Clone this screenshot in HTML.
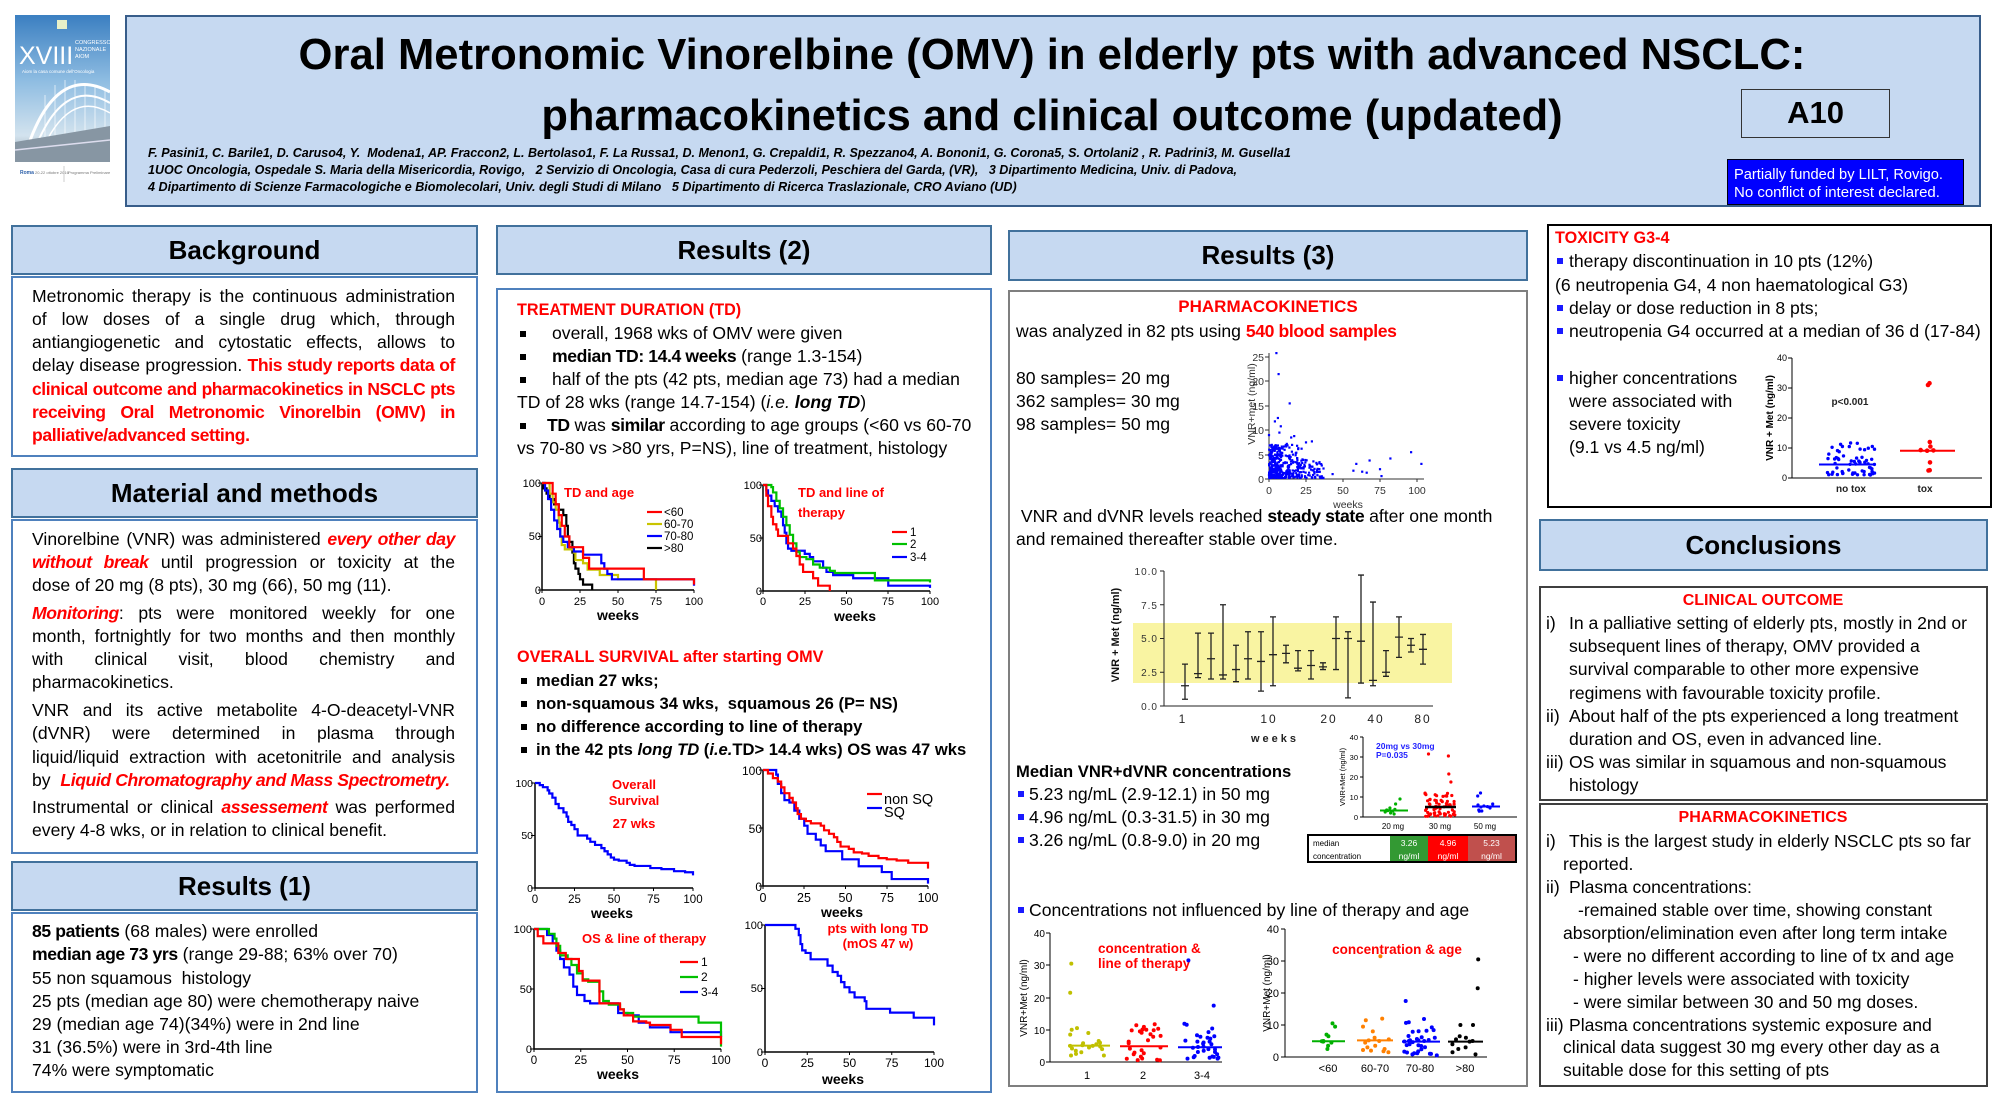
<!DOCTYPE html>
<html><head><meta charset="utf-8">
<style>
*{margin:0;padding:0;box-sizing:border-box}
body{width:2000px;height:1101px;position:relative;overflow:hidden;background:#fff;font-family:"Liberation Sans",Arial,sans-serif;color:#000}
.a{position:absolute}
.hd{position:absolute;background:#c6d9f1;border:2px solid #41719c;font-weight:bold;font-size:26px;text-align:center}
.bx{position:absolute;border:2px solid #4f81bd;background:#fff}
.t{position:absolute;font-size:17.6px;line-height:23.2px;white-space:nowrap}
.j{white-space:normal;text-align:justify;text-align-last:justify}
.r{color:#f00}
.b{font-weight:bold;letter-spacing:-0.4px}
.h{font-weight:bold;color:#f00;font-size:16.2px}
.tb{font-weight:bold;font-size:16.6px}
.bl{position:absolute;width:6px;height:6px;background:#000}
.bb{position:absolute;width:6px;height:6px;background:#1a1aff}
.fx{position:absolute;display:inline-block;white-space:nowrap}
.cx{transform:translateX(-50%);transform-origin:50% 50%}
.lf{transform-origin:0 50%}
.km path,.eb path{vector-effect:non-scaling-stroke}
</style></head><body>

<!-- Logo -->
<svg class="a" style="left:0;top:0" width="125" height="200" viewBox="0 0 125 200">
<defs><linearGradient id="sky" x1="0" y1="0" x2="0" y2="1"><stop offset="0" stop-color="#3b7fc1"/><stop offset="0.45" stop-color="#8fbde2"/><stop offset="0.82" stop-color="#d3e3ee"/><stop offset="1" stop-color="#8f9eab"/></linearGradient></defs>
<rect x="15" y="15" width="95" height="147" fill="url(#sky)"/>
<rect x="57" y="20" width="10" height="9" fill="#e8f0c8"/>
<text x="19" y="64" font-size="25" fill="#fff" font-family="Liberation Sans, sans-serif">XVIII</text>
<g font-size="5.5" fill="#fff"><text x="75" y="44">CONGRESSO</text><text x="75" y="51">NAZIONALE</text><text x="75" y="58">AIOM</text></g>
<text x="22" y="73" font-size="4.5" fill="#fff">Aiom la casa comune dell'Oncologia</text>
<g fill="none" stroke="#fff"><path d="M26 152 Q55 62 110 92" stroke-width="3"/><path d="M33 154 Q62 75 110 103" stroke-width="2"/><path d="M40 155 Q68 88 110 113" stroke-width="1.5"/>
<path d="M45 95V140M55 85V138M65 80V136M75 80V134M85 83V132M95 87V130M105 91V128" stroke-width="0.8" opacity="0.8"/></g>
<path d="M15 142 L110 126 L110 162 L15 162Z" fill="#8796a3"/>
<path d="M15 150 L110 140" stroke="#dde" stroke-width="1.5"/>
<rect x="15" y="162" width="95" height="23" fill="#fff"/>
<text x="20" y="174" font-size="5" fill="#2a5ea8" font-weight="bold">Roma</text><text x="35" y="174" font-size="4" fill="#777">20-22 ottobre 2016</text>
<line x1="64" y1="166" x2="64" y2="182" stroke="#aaa" stroke-width="0.6"/>
<text x="68" y="174" font-size="4" fill="#777">Programma Preliminare</text>
</svg>

<!-- Header -->
<div class="a" style="left:125px;top:15px;width:1856px;height:192px;background:#c6d9f1;border:2px solid #385d8a"></div>
<div class="fx cx" style="--w:1507;left:1052px;top:33px;font-size:44px;line-height:44px;font-weight:bold">Oral Metronomic Vinorelbine (OMV) in elderly pts with advanced NSCLC:</div>
<div class="fx cx" style="--w:1021;left:1052px;top:94px;font-size:44px;line-height:44px;font-weight:bold">pharmacokinetics and clinical outcome (updated)</div>
<div class="fx lf" style="--w:1143;left:148px;top:145px;font-size:12.5px;line-height:17px;font-weight:bold;font-style:italic">F. Pasini1, C. Barile1, D. Caruso4, Y.&nbsp; Modena1, AP. Fraccon2, L. Bertolaso1, F. La Russa1, D. Menon1, G. Crepaldi1, R. Spezzano4, A. Bononi1, G. Corona5, S. Ortolani2 , R. Padrini3, M. Gusella1</div>
<div class="fx lf" style="--w:1089;left:148px;top:162px;font-size:12.5px;line-height:17px;font-weight:bold;font-style:italic">1UOC Oncologia, Ospedale S. Maria della Misericordia, Rovigo, &nbsp; 2 Servizio di Oncologia, Casa di cura Pederzoli, Peschiera del Garda, (VR), &nbsp; 3 Dipartimento Medicina, Univ. di Padova,</div>
<div class="fx lf" style="--w:869;left:148px;top:179px;font-size:12.5px;line-height:17px;font-weight:bold;font-style:italic">4 Dipartimento di Scienze Farmacologiche e Biomolecolari, Univ. degli Studi di Milano &nbsp; 5 Dipartimento di Ricerca Traslazionale, CRO Aviano (UD)</div>
<div class="a" style="left:1741px;top:89px;width:149px;height:49px;background:#c6d9f1;border:1.5px solid #333;font-weight:bold;font-size:31px;line-height:46px;text-align:center">A10</div>
<div class="a" style="left:1727px;top:159px;width:237px;height:46px;background:#0000ff;border:1px solid #001"></div>
<div class="fx lf" style="--w:209;left:1734px;top:166px;font-size:15px;line-height:18px;color:#fff">Partially funded by LILT, Rovigo.</div>
<div class="fx lf" style="--w:206;left:1734px;top:184px;font-size:15px;line-height:18px;color:#fff">No conflict of interest declared.</div>

<!-- LEFT COLUMN -->
<div class="hd" style="left:11px;top:225px;width:467px;height:50px;line-height:46px">Background</div>
<div class="bx" style="left:11px;top:276px;width:467px;height:181px"></div>
<div class="t j" style="left:32px;width:423px;top:285.4px">Metronomic therapy is the continuous administration</div>
<div class="t j" style="left:32px;width:423px;top:308.4px">of low doses of a single drug which, through</div>
<div class="t j" style="left:32px;width:423px;top:331.4px">antiangiogenetic and cytostatic effects, allows to</div>
<div class="t j" style="left:32px;width:423px;top:354.4px">delay disease progression. <span class="b r">This study reports data of</span></div>
<div class="t j" style="left:32px;width:423px;top:378.4px"><span class="b r">clinical outcome and pharmacokinetics in NSCLC pts</span></div>
<div class="t j" style="left:32px;width:423px;top:401.4px"><span class="b r">receiving Oral Metronomic Vinorelbin (OMV) in</span></div>
<div class="t" style="left:32px;top:424.4px"><span class="b r">palliative/advanced setting.</span></div>

<div class="hd" style="left:11px;top:468px;width:467px;height:50px;line-height:46px">Material and methods</div>
<div class="bx" style="left:11px;top:519px;width:467px;height:335px"></div>
<div class="t j" style="left:32px;width:423px;top:528.4px">Vinorelbine (VNR) was administered <i class="b r">every other day</i></div>
<div class="t j" style="left:32px;width:423px;top:551.4px"><i class="b r">without break</i> until progression or toxicity at the</div>
<div class="t" style="left:32px;top:574.4px">dose of 20 mg (8 pts), 30 mg (66), 50 mg (11).</div>
<div class="t j" style="left:32px;width:423px;top:602.4px"><i class="b r">Monitoring</i>: pts were monitored weekly for one</div>
<div class="t j" style="left:32px;width:423px;top:625.4px">month, fortnightly for two months and then monthly</div>
<div class="t j" style="left:32px;width:423px;top:648.4px">with clinical visit, blood chemistry and</div>
<div class="t" style="left:32px;top:671.4px">pharmacokinetics.</div>
<div class="t j" style="left:32px;width:423px;top:699.4px">VNR and its active metabolite 4-O-deacetyl-VNR</div>
<div class="t j" style="left:32px;width:423px;top:722.4px">(dVNR) were determined in plasma through</div>
<div class="t j" style="left:32px;width:423px;top:746.4px">liquid/liquid extraction with acetonitrile and analysis</div>
<div class="t" style="left:32px;top:769.4px">by&nbsp; <i class="b r">Liquid Chromatography and Mass Spectrometry.</i></div>
<div class="t j" style="left:32px;width:423px;top:796.4px">Instrumental or clinical <i class="b r">assessement</i> was performed</div>
<div class="t" style="left:32px;top:819.4px">every 4-8 wks, or in relation to clinical benefit.</div>

<div class="hd" style="left:11px;top:861px;width:467px;height:50px;line-height:46px">Results (1)</div>
<div class="bx" style="left:11px;top:912px;width:467px;height:181px"></div>
<div class="t" style="left:32px;top:920.4px"><span class="b">85 patients</span> (68 males) were enrolled</div>
<div class="t" style="left:32px;top:943.4px"><span class="b">median age 73 yrs</span> (range 29-88; 63% over 70)</div>
<div class="t" style="left:32px;top:967.4px">55 non squamous&nbsp; histology</div>
<div class="t" style="left:32px;top:990.4px">25 pts (median age 80) were chemotherapy naive</div>
<div class="t" style="left:32px;top:1013.4px">29 (median age 74)(34%) were in 2nd line</div>
<div class="t" style="left:32px;top:1036.4px">31 (36.5%) were in 3rd-4th line</div>
<div class="t" style="left:32px;top:1059.4px">74% were symptomatic</div>

<!-- RESULTS 2 -->
<div class="hd" style="left:496px;top:225px;width:496px;height:50px;line-height:46px">Results (2)</div>
<div class="bx" style="left:496px;top:288px;width:496px;height:805px"></div>
<div class="t h" style="left:517px;top:299.4px">TREATMENT DURATION (TD)</div>
<div class="bl" style="left:520px;top:331px"></div>
<div class="t" style="left:552px;top:322.4px">overall, 1968 wks of OMV were given</div>
<div class="bl" style="left:520px;top:354px"></div>
<div class="t" style="left:552px;top:345.4px"><span class="b">median TD: 14.4 weeks</span> (range 1.3-154)</div>
<div class="bl" style="left:520px;top:377px"></div>
<div class="t" style="left:552px;top:368.4px">half of the pts (42 pts, median age 73) had a median</div>
<div class="t" style="left:517px;top:391.4px">TD of 28 wks (range 14.7-154) (<i>i.e.</i> <b><i>long TD</i></b>)</div>
<div class="bl" style="left:520px;top:423px"></div>
<div class="t" style="left:547px;top:414.4px"><span class="b">TD</span> was <span class="b">similar</span> according to age groups (&lt;60 vs 60-70</div>
<div class="t" style="left:517px;top:437.4px">vs 70-80 vs &gt;80 yrs, P=NS), line of treatment, histology</div>

<div class="t h" style="left:517px;top:646.4px">OVERALL SURVIVAL after starting OMV</div>
<div class="bl" style="left:521px;top:678px"></div>
<div class="t tb" style="left:536px;top:669.4px">median 27 wks;</div>
<div class="bl" style="left:521px;top:701px"></div>
<div class="t tb" style="left:536px;top:692.4px">non-squamous 34 wks,&nbsp; squamous 26 (P= NS)</div>
<div class="bl" style="left:521px;top:724px"></div>
<div class="t tb" style="left:536px;top:715.4px">no difference according to line of therapy</div>
<div class="bl" style="left:521px;top:747px"></div>
<div class="t tb" style="left:536px;top:738.4px">in the 42 pts <i>long TD</i> (<i>i.e.</i>TD&gt; 14.4 wks) OS was 47 wks</div>

<!-- RESULTS 3 -->
<div class="hd" style="left:1008px;top:230px;width:520px;height:51px;line-height:47px">Results (3)</div>
<div class="bx" style="left:1008px;top:290px;width:520px;height:797px;border-color:#7f7f7f"></div>
<div class="t" style="left:1268px;top:295.4px;transform:translateX(-50%);font-weight:bold;color:#f00;font-size:17px">PHARMACOKINETICS</div>
<div class="t" style="left:1016px;top:320.4px">was analyzed in 82 pts using <span class="b r">540 blood samples</span></div>
<div class="t" style="left:1016px;top:367.4px">80 samples= 20 mg</div>
<div class="t" style="left:1016px;top:390.4px">362 samples= 30 mg</div>
<div class="t" style="left:1016px;top:413.4px">98 samples= 50 mg</div>
<div class="t" style="left:1016px;top:505.4px">&nbsp;VNR and dVNR levels reached <span class="b">steady state</span> after one month</div>
<div class="t" style="left:1016px;top:528.4px">and remained thereafter stable over time.</div>
<div class="t tb" style="left:1016px;top:760.4px">Median VNR+dVNR concentrations</div>
<div class="bb" style="left:1018px;top:791px"></div>
<div class="t" style="left:1029px;top:783.4px">5.23 ng/mL (2.9-12.1) in 50 mg</div>
<div class="bb" style="left:1018px;top:814px"></div>
<div class="t" style="left:1029px;top:806.4px">4.96 ng/mL (0.3-31.5) in 30 mg</div>
<div class="bb" style="left:1018px;top:837px"></div>
<div class="t" style="left:1029px;top:829.4px">3.26 ng/mL (0.8-9.0) in 20 mg</div>
<div class="bb" style="left:1018px;top:907px"></div>
<div class="t" style="left:1029px;top:899.4px">Concentrations not influenced by line of therapy and age</div>

<!-- table -->
<div class="a" style="left:1307px;top:834px;width:210px;height:29px;border:2px solid #000;background:#fff"></div>
<div class="a" style="left:1390px;top:836px;width:38px;height:25px;background:#339933"></div>
<div class="a" style="left:1428px;top:836px;width:40px;height:25px;background:#ff0000"></div>
<div class="a" style="left:1468px;top:836px;width:47px;height:25px;background:#c0504d"></div>

<!-- RIGHT COLUMN -->
<div class="a" style="left:1547px;top:224px;width:445px;height:284px;border:2px solid #000"></div>
<div class="t h" style="left:1555px;top:227.4px">TOXICITY G3-4</div>
<div class="bb" style="left:1557px;top:258px"></div>
<div class="t" style="left:1569px;top:250.4px">therapy discontinuation in 10 pts (12%)</div>
<div class="t" style="left:1555px;top:274.4px">(6 neutropenia G4, 4 non haematological G3)</div>
<div class="bb" style="left:1557px;top:305px"></div>
<div class="t" style="left:1569px;top:297.4px">delay or dose reduction in 8 pts;</div>
<div class="bb" style="left:1557px;top:328px"></div>
<div class="t" style="left:1569px;top:320.4px">neutropenia G4 occurred at a median of 36 d (17-84)</div>
<div class="bb" style="left:1557px;top:375px"></div>
<div class="t" style="left:1569px;top:367.4px">higher concentrations</div>
<div class="t" style="left:1569px;top:390.4px">were associated with</div>
<div class="t" style="left:1569px;top:413.4px">severe toxicity</div>
<div class="t" style="left:1569px;top:436.4px">(9.1 vs 4.5 ng/ml)</div>

<div class="hd" style="left:1539px;top:519px;width:449px;height:52px;line-height:48px">Conclusions</div>
<div class="a" style="left:1539px;top:586px;width:449px;height:215px;border:2px solid #3f3f3f"></div>
<div class="t" style="left:1763px;top:589.4px;transform:translateX(-50%);font-weight:bold;color:#f00;font-size:16px">CLINICAL OUTCOME</div>
<div class="t" style="left:1546px;top:612.4px">i)</div>
<div class="t" style="left:1569px;top:612.4px">In a palliative setting of elderly pts, mostly in 2nd or</div>
<div class="t" style="left:1569px;top:635.4px">subsequent lines of therapy, OMV provided a</div>
<div class="t" style="left:1569px;top:658.4px">survival comparable to other more expensive</div>
<div class="t" style="left:1569px;top:682.4px">regimens with favourable toxicity profile.</div>
<div class="t" style="left:1546px;top:705.4px">ii)</div>
<div class="t" style="left:1569px;top:705.4px">About half of the pts experienced a long treatment</div>
<div class="t" style="left:1569px;top:728.4px">duration and OS, even in advanced line.</div>
<div class="t" style="left:1546px;top:751.4px">iii)</div>
<div class="t" style="left:1569px;top:751.4px">OS was similar in squamous and non-squamous</div>
<div class="t" style="left:1569px;top:774.4px">histology</div>

<div class="a" style="left:1539px;top:803px;width:449px;height:284px;border:2px solid #3f3f3f"></div>
<div class="t" style="left:1763px;top:806.4px;transform:translateX(-50%);font-weight:bold;color:#f00;font-size:16px">PHARMACOKINETICS</div>
<div class="t" style="left:1546px;top:830.4px">i)</div>
<div class="t" style="left:1569px;top:830.4px">This is the largest study in elderly NSCLC pts so far</div>
<div class="t" style="left:1563px;top:853.4px">reported.</div>
<div class="t" style="left:1546px;top:876.4px">ii)</div>
<div class="t" style="left:1569px;top:876.4px">Plasma concentrations:</div>
<div class="t" style="left:1578px;top:899.4px">-remained stable over time, showing constant</div>
<div class="t" style="left:1563px;top:922.4px">absorption/elimination even after long term intake</div>
<div class="t" style="left:1573px;top:945.4px">- were no different according to line of tx and age</div>
<div class="t" style="left:1573px;top:968.4px">- higher levels were associated with toxicity</div>
<div class="t" style="left:1573px;top:991.4px">- were similar between 30 and 50 mg doses.</div>
<div class="t" style="left:1546px;top:1014.4px">iii)</div>
<div class="t" style="left:1569px;top:1014.4px">Plasma concentrations systemic exposure and</div>
<div class="t" style="left:1563px;top:1036.4px">clinical data suggest 30 mg every other day as a</div>
<div class="t" style="left:1563px;top:1059.4px">suitable dose for this setting of pts</div>

<!-- CHARTS -->
<svg class="a" style="left:0;top:0" width="2000" height="1101" viewBox="0 0 2000 1101" font-family="Liberation Sans, Arial, sans-serif">

<!-- Chart A: TD and age -->
<g fill="none" stroke="#000"><path d="M542 483V590H694" stroke-width="1.5"/><path d="M538 483H542M538 536.5H542M538 590H542M542 590v3M580 590v3M618 590v3M656 590v3M694 590v3" stroke-width="1"/></g>
<g class="km" transform="translate(542,590) scale(1.52,-1.07)" fill="none" stroke-width="2.2">
<path stroke="#000" d="M0 100H1V95H3V90H5V85H8V80H11V75H14V70H16V60H17V50H18V45H20V35H21V25H22V20H24V15H25V10H27V5H33V0"/>
<path stroke="#c9c400" d="M0 100H5V90H7V82H9V75H11V63H12V50H13V42H15V38H21V35H22V28H27V25H30V19H38V14H50V10H75V0"/>
<path stroke="#0000ff" d="M0 100H2V93H4V85H6V75H8V65H10V57H12V50H14V45H17V40H21V36H27V33H39V25H41V20H43V15H46V10H100V4"/>
<path stroke="#ff0000" d="M0 100H7V90H9V80H11V70H13V60H15V50H18V40H27V30H31V20H67V10H100V5"/>
</g>
<g font-size="11" text-anchor="end"><text x="541" y="487">100</text><text x="541" y="540">50</text><text x="541" y="594">0</text></g>
<g font-size="11" text-anchor="middle"><text x="542" y="605">0</text><text x="580" y="605">25</text><text x="618" y="605">50</text><text x="656" y="605">75</text><text x="694" y="605">100</text></g>
<text x="618" y="620" font-size="14" font-weight="bold" text-anchor="middle">weeks</text>
<text x="564" y="497" font-size="13" font-weight="bold" fill="#f00">TD and age</text>
<g stroke-width="2.2"><line x1="647" y1="512" x2="662" y2="512" stroke="#f00"/><line x1="647" y1="524" x2="662" y2="524" stroke="#c9c400"/><line x1="647" y1="536" x2="662" y2="536" stroke="#00f"/><line x1="647" y1="548" x2="662" y2="548" stroke="#000"/></g>
<g font-size="11.5"><text x="664" y="516">&lt;60</text><text x="664" y="528">60-70</text><text x="664" y="540">70-80</text><text x="664" y="552">&gt;80</text></g>

<!-- Chart B: TD and line -->
<g fill="none" stroke="#000"><path d="M763 485V591H930" stroke-width="1.5"/><path d="M759 485H763M759 538H763M759 591H763M763 591v3M805 591v3M846.5 591v3M888 591v3M930 591v3" stroke-width="1"/></g>
<g class="km" transform="translate(763,591) scale(1.67,-1.06)" fill="none" stroke-width="2.2">
<path stroke="#0000ff" d="M0 100H2V95H3V90H5V85H7V80H9V75H11V70H12V62H13V55H14V45H15V40H17V38H25V35H28V32H30V28H36V22H38V18H42V15H54V12H75V5H100V3"/>
<path stroke="#00c000" d="M0 100H5V98H6V93H8V85H10V78H12V70H14V62H16V53H18V45H20V37H22V32H26V30H30V25H34V22H40V19H43V17H67V10H100V8"/>
<path stroke="#ff0000" d="M0 100H2V90H3V80H5V70H6V63H8V58H9V52H14V52H15V45H18V40H20V33H22V25H24V18H30V12H33V5H40V0"/>
</g>
<g font-size="11" text-anchor="end"><text x="762" y="489">100</text><text x="762" y="542">50</text><text x="762" y="595">0</text></g>
<g font-size="11" text-anchor="middle"><text x="763" y="605">0</text><text x="805" y="605">25</text><text x="846.5" y="605">50</text><text x="888" y="605">75</text><text x="930" y="605">100</text></g>
<text x="855" y="621" font-size="14" font-weight="bold" text-anchor="middle">weeks</text>
<text x="798" y="497" font-size="13" font-weight="bold" fill="#f00">TD and line of</text>
<text x="798" y="517" font-size="13" font-weight="bold" fill="#f00">therapy</text>
<g stroke-width="2.2"><line x1="892" y1="532" x2="907" y2="532" stroke="#f00"/><line x1="892" y1="544" x2="907" y2="544" stroke="#00c000"/><line x1="892" y1="557" x2="907" y2="557" stroke="#00f"/></g>
<g font-size="11.5"><text x="910" y="536">1</text><text x="910" y="548">2</text><text x="910" y="561">3-4</text></g>

<!-- Chart C: OS -->
<g fill="none" stroke="#000"><path d="M535 783V888H693" stroke-width="1.5"/><path d="M531 783H535M531 835.5H535M531 888H535M535 888v3M574.5 888v3M614 888v3M653.5 888v3M693 888v3" stroke-width="1"/></g>
<g class="km" transform="translate(535,888) scale(1.58,-1.05)" fill="none" stroke-width="2.2">
<path stroke="#0000ff" d="M0 100H3V98H5V96H8V93H9V90H11V86H13V80H15V76H18V72H20V68H21V63H23V60H25V56H27V50H33V47H35V44H38V41H42V38H44V35H46V32H48V29H50V27H53V26H58V24H60V22H63V21H73V19H80V18H88V16H95V15H100V12"/>
</g>
<g font-size="10.5" text-anchor="end"><text x="533" y="787">100</text><text x="533" y="839">50</text><text x="533" y="892">0</text></g>
<g font-size="11.5" text-anchor="middle"><text x="535" y="903">0</text><text x="574.5" y="903">25</text><text x="614" y="903">50</text><text x="653.5" y="903">75</text><text x="693" y="903">100</text></g>
<text x="612" y="918" font-size="14" font-weight="bold" text-anchor="middle">weeks</text>
<g font-size="13" font-weight="bold" fill="#f00" text-anchor="middle"><text x="634" y="789">Overall</text><text x="634" y="805">Survival</text><text x="634" y="828">27 wks</text></g>

<!-- Chart D: SQ -->
<g fill="none" stroke="#000"><path d="M763 770V886H928" stroke-width="1.5"/><path d="M759 770H763M759 828H763M759 886H763M763 886v3M804 886v3M845.5 886v3M887 886v3M928 886v3" stroke-width="1"/></g>
<g class="km" transform="translate(763,886) scale(1.65,-1.16)" fill="none" stroke-width="2.2">
<path stroke="#0000ff" d="M0 100H3V100H8V96H9V88H11V80H13V74H16V72H19V65H22V58H25V52H27V45H32V40H35V35H38V30H48V23H58V17H72V12H78V6H100V2"/>
<path stroke="#ff0000" d="M0 100H3V97H6V93H9V90H11V85H13V80H16V76H18V72H20V67H21V62H23V58H26V56H29V54H35V52H37V48H40V45H43V42H45V38H47V34H52V32H55V29H60V28H64V26H70V24H75V23H81V22H88V20H100V15"/>
</g>
<g font-size="12" text-anchor="end"><text x="762" y="775">100</text><text x="762" y="833">50</text><text x="762" y="891">0</text></g>
<g font-size="12.5" text-anchor="middle"><text x="763" y="902">0</text><text x="804" y="902">25</text><text x="845.5" y="902">50</text><text x="887" y="902">75</text><text x="928" y="902">100</text></g>
<text x="842" y="917" font-size="14" font-weight="bold" text-anchor="middle">weeks</text>
<g stroke-width="2.2"><line x1="867" y1="794" x2="882" y2="794" stroke="#f00"/><line x1="867" y1="808" x2="882" y2="808" stroke="#00f"/></g>
<g font-size="14.5"><text x="884" y="804">non SQ</text><text x="884" y="817">SQ</text></g>

<!-- Chart E: OS & line -->
<g fill="none" stroke="#000"><path d="M534 929V1049H721" stroke-width="1.5"/><path d="M530 929H534M530 989H534M530 1049H534M534 1049v3M580.75 1049v3M627.5 1049v3M674.25 1049v3M721 1049v3" stroke-width="1"/></g>
<g class="km" transform="translate(534,1049) scale(1.87,-1.2)" fill="none" stroke-width="2.2">
<path stroke="#0000ff" d="M0 100H4V100H7V95H10V88H12V82H14V75H16V68H19V62H21V52H23V45H27V40H30V38H43V38H45V30H50V28H56V22H62V18H73V14H100V10"/>
<path stroke="#00c000" d="M0 100H6V100H8V96H11V92H12V86H14V78H18V75H20V70H23V63H26V58H29V56H33V56H35V48H37V40H40V37H46V33H48V30H53V27H88V22H100V2"/>
<path stroke="#ff0000" d="M0 100H2V94H5V88H11V88H13V80H17V75H21V75H24V65H26V57H33V57H35V38H42V38H46V33H48V28H53V23H60V22H62V20H73V16H79V10H100V4"/>
</g>
<g font-size="11" text-anchor="end"><text x="532" y="933">100</text><text x="532" y="993">50</text><text x="532" y="1053">0</text></g>
<g font-size="11.5" text-anchor="middle"><text x="534" y="1064">0</text><text x="580.75" y="1064">25</text><text x="627.5" y="1064">50</text><text x="674.25" y="1064">75</text><text x="721" y="1064">100</text></g>
<text x="618" y="1079" font-size="14" font-weight="bold" text-anchor="middle">weeks</text>
<text x="582" y="943" font-size="13" font-weight="bold" fill="#f00">OS &amp; line of therapy</text>
<g stroke-width="2.2"><line x1="680" y1="962" x2="698" y2="962" stroke="#f00"/><line x1="680" y1="977" x2="698" y2="977" stroke="#00c000"/><line x1="680" y1="992" x2="698" y2="992" stroke="#00f"/></g>
<g font-size="12"><text x="701" y="966">1</text><text x="701" y="981">2</text><text x="701" y="996">3-4</text></g>

<!-- Chart F: long TD -->
<g fill="none" stroke="#000"><path d="M765 925V1052H934" stroke-width="1.5"/><path d="M761 925H765M761 988.5H765M761 1052H765M765 1052v3M807.25 1052v3M849.5 1052v3M891.75 1052v3M934 1052v3" stroke-width="1"/></g>
<g class="km" transform="translate(765,1052) scale(1.69,-1.27)" fill="none" stroke-width="2.2">
<path stroke="#0000ff" d="M0 100H16V100H18V97H20V92H21V85H22V80H24V78H27V73H35V73H37V68H40V63H43V60H45V55H47V51H50V47H53V43H59V40H60V34H73V34H74V31H87V31H88V27H100V27V21"/>
</g>
<g font-size="11" text-anchor="end"><text x="763" y="929">100</text><text x="763" y="992">50</text><text x="763" y="1056">0</text></g>
<g font-size="12" text-anchor="middle"><text x="765" y="1067">0</text><text x="807.25" y="1067">25</text><text x="849.5" y="1067">50</text><text x="891.75" y="1067">75</text><text x="934" y="1067">100</text></g>
<text x="843" y="1084" font-size="14" font-weight="bold" text-anchor="middle">weeks</text>
<g font-size="13" font-weight="bold" fill="#f00" text-anchor="middle"><text x="878" y="933">pts with long TD</text><text x="878" y="948">(mOS 47 w)</text></g>

<!-- Scatter VNR vs weeks -->
<g fill="none" stroke="#333" stroke-width="1"><path d="M1269 353V479H1424"/><path d="M1265 479H1269M1265 455H1269M1265 430H1269M1265 406H1269M1265 381H1269M1265 357H1269M1269 479v3M1306 479v3M1343 479v3M1380 479v3M1417 479v3"/></g>
<g font-size="10.5" fill="#333" text-anchor="end"><text x="1264" y="483">0</text><text x="1264" y="459">5</text><text x="1264" y="434">10</text><text x="1264" y="410">15</text><text x="1264" y="385">20</text><text x="1264" y="361">25</text></g>
<g font-size="10.5" fill="#333" text-anchor="middle"><text x="1269" y="494">0</text><text x="1306" y="494">25</text><text x="1343" y="494">50</text><text x="1380" y="494">75</text><text x="1417" y="494">100</text></g>
<text x="1348" y="508" font-size="10.5" fill="#333" text-anchor="middle">weeks</text>
<text transform="translate(1255,404) rotate(-90)" font-size="10.5" fill="#333" text-anchor="middle">VNR+met (ng/ml)</text>

<!-- Error bar chart -->
<rect x="1133" y="623" width="319" height="60" fill="#f9f4a2"/>
<g fill="none" stroke="#222" stroke-width="1"><path d="M1164 571V706H1433"/><path d="M1160 571H1164M1160 604.75H1164M1160 638.5H1164M1160 672.25H1164M1160 706H1164"/></g>
<g class="eb" transform="translate(0,706) scale(1,-13.5)" fill="none" stroke="#222" stroke-width="1.3">
<path d="M1185 .5V3.1M1182 3.1h6M1182 .5h6M1181 1.5h8
M1198 2.1V5.4M1195 5.4h6M1195 2.1h6M1194 2.4h8
M1211 2V5.4M1208 5.4h6M1208 2h6M1207 3.5h8
M1223 2V7.5M1220 7.5h6M1220 2h6M1219 2.3h8
M1236 1.8V4.5M1233 4.5h6M1233 1.8h6M1232 2.7h8
M1248 2V5.5M1245 5.5h6M1245 2h6M1244 3.5h8
M1261 1.1V5.5M1258 5.5h6M1258 1.1h6M1257 3.3h8
M1273 1.5V6.6M1270 6.6h6M1270 1.5h6M1269 3.8h8
M1286 3.2V4.5M1283 4.5h6M1283 3.2h6M1282 3.9h8
M1298 2.6V4.1M1295 4.1h6M1295 2.6h6M1294 2.8h8
M1311 2V4.1M1308 4.1h6M1308 2h6M1307 3h8
M1323 2.7V3.2M1320 3.2h6M1320 2.7h6M1319 2.9h8
M1336 2.7V6.6M1333 6.6h6M1333 2.7h6M1332 5h8
M1348 .6V5.5M1345 5.5h6M1345 .6h6M1344 5h8
M1361 1.7V9.7M1358 9.7h6M1358 1.7h6M1357 4.8h8
M1373 1.5V7.7M1370 7.7h6M1370 1.5h6M1369 1.9h8
M1386 2.2V4.1M1383 4.1h6M1383 2.2h6M1382 2.5h8
M1399 3.6V6.6M1396 6.6h6M1396 3.6h6M1395 5.1h8
M1411 4V5M1408 5h6M1408 4h6M1407 4.5h8
M1423 3.1V5.3M1420 5.3h6M1420 3.1h6M1419 4.2h8"/>
</g>
<g font-size="10" fill="#333" text-anchor="end" letter-spacing="1"><text x="1158" y="575">10.0</text><text x="1158" y="609">7.5</text><text x="1158" y="642">5.0</text><text x="1158" y="676">2.5</text><text x="1158" y="710">0.0</text></g>
<g font-size="12" fill="#222" text-anchor="middle" letter-spacing="2"><text x="1183" y="723">1</text><text x="1269" y="723">10</text><text x="1329" y="723">20</text><text x="1376" y="723">40</text><text x="1423" y="723">80</text></g>
<text x="1275" y="742" font-size="11" font-weight="bold" fill="#222" text-anchor="middle" letter-spacing="3">weeks</text>
<text transform="translate(1119,635) rotate(-90)" font-size="11" font-weight="bold" fill="#111" text-anchor="middle">VNR + Met (ng/ml)</text>

<!-- Dose chart -->
<g fill="none" stroke="#000" stroke-width="1"><path d="M1363 737V817H1517"/><path d="M1360 737H1363M1360 757H1363M1360 777H1363M1360 797H1363M1360 817H1363"/></g>
<g font-size="7.5" text-anchor="end"><text x="1358" y="820">0</text><text x="1358" y="800">10</text><text x="1358" y="780">20</text><text x="1358" y="760">30</text><text x="1358" y="740">40</text></g>
<g font-size="8" text-anchor="middle"><text x="1393" y="829">20 mg</text><text x="1440" y="829">30 mg</text><text x="1485" y="829">50 mg</text></g>
<text transform="translate(1345,777) rotate(-90)" font-size="7.5" text-anchor="middle">VNR+Met (ng/ml)</text>
<g font-size="8.5" font-weight="bold" fill="#1f1fff"><text x="1376" y="749">20mg vs 30mg</text><text x="1376" y="758">P=0.035</text></g>
<g font-size="8"><text x="1313" y="846">median</text><text x="1313" y="859">concentration</text></g>
<g font-size="8.5" fill="#fff" text-anchor="middle"><text x="1409" y="846">3.26</text><text x="1409" y="859">ng/ml</text><text x="1448" y="846">4.96</text><text x="1448" y="859">ng/ml</text><text x="1491.5" y="846">5.23</text><text x="1491.5" y="859">ng/ml</text></g>

<!-- Line of therapy chart -->
<g fill="none" stroke="#000" stroke-width="1"><path d="M1050 933V1062H1222"/><path d="M1046 933H1050M1046 965H1050M1046 998H1050M1046 1030H1050M1046 1062H1050"/></g>
<g font-size="10" text-anchor="end"><text x="1045" y="1066">0</text><text x="1045" y="1034">10</text><text x="1045" y="1002">20</text><text x="1045" y="969">30</text><text x="1045" y="937">40</text></g>
<g font-size="11" text-anchor="middle"><text x="1087" y="1079">1</text><text x="1143" y="1079">2</text><text x="1202" y="1079">3-4</text></g>
<text transform="translate(1027,998) rotate(-90)" font-size="10" text-anchor="middle">VNR+Met (ng/ml)</text>
<g font-size="13.5" font-weight="bold" fill="#f00"><text x="1098" y="953">concentration &amp;</text><text x="1098" y="968">line of therapy</text></g>

<!-- Age chart -->
<g fill="none" stroke="#000" stroke-width="1"><path d="M1285 929V1057H1487"/><path d="M1281 929H1285M1281 961H1285M1281 993H1285M1281 1025H1285M1281 1057H1285"/></g>
<g font-size="11" text-anchor="end"><text x="1279" y="1061">0</text><text x="1279" y="1029">10</text><text x="1279" y="997">20</text><text x="1279" y="965">30</text><text x="1279" y="933">40</text></g>
<g font-size="11" text-anchor="middle"><text x="1328" y="1072">&lt;60</text><text x="1375" y="1072">60-70</text><text x="1420" y="1072">70-80</text><text x="1465" y="1072">&gt;80</text></g>
<text transform="translate(1270,993) rotate(-90)" font-size="10" text-anchor="middle">VNR+Met (ng/ml)</text>
<text x="1397" y="954" font-size="13.5" font-weight="bold" fill="#f00" text-anchor="middle">concentration &amp; age</text>

<!-- Tox chart -->
<g fill="none" stroke="#000" stroke-width="1"><path d="M1792 358V478H1982"/><path d="M1788 358H1792M1788 388H1792M1788 418H1792M1788 448H1792M1788 478H1792"/></g>
<g font-size="9" text-anchor="end"><text x="1787" y="481">0</text><text x="1787" y="451">10</text><text x="1787" y="421">20</text><text x="1787" y="391">30</text><text x="1787" y="361">40</text></g>
<g font-size="10" text-anchor="middle" font-weight="bold" fill="#222"><text x="1851" y="492">no tox</text><text x="1925" y="492">tox</text><text x="1850" y="405">p&lt;0.001</text></g>
<text transform="translate(1773,418) rotate(-90)" font-size="10" font-weight="bold" text-anchor="middle">VNR + Met (ng/ml)</text>

<!-- median lines -->
<g stroke-width="2">
<line x1="1380" y1="810.5" x2="1408" y2="810.5" stroke="#00b000"/>
<line x1="1472" y1="806.5" x2="1500" y2="806.5" stroke="#00f"/>
<line x1="1068" y1="1045.6" x2="1110" y2="1045.6" stroke="#c0c000"/>
<line x1="1120" y1="1046.2" x2="1168" y2="1046.2" stroke="#f00"/>
<line x1="1178" y1="1047.2" x2="1222" y2="1047.2" stroke="#00f"/>
<line x1="1312" y1="1041.3" x2="1345" y2="1041.3" stroke="#00b000"/>
<line x1="1357" y1="1040.4" x2="1393" y2="1040.4" stroke="#ff8000"/>
<line x1="1402" y1="1041.6" x2="1440" y2="1041.6" stroke="#00f"/>
<line x1="1448" y1="1041.6" x2="1483" y2="1041.6" stroke="#000"/>
<line x1="1819" y1="464.5" x2="1874" y2="464.5" stroke="#00f"/>
<line x1="1900" y1="450.7" x2="1955" y2="450.7" stroke="#f00"/>
</g>
<g id="dots"></g>
<line x1="1425" y1="807" x2="1456" y2="807" stroke="#000" stroke-width="2.5"/>
</svg>

<script>
(function(){
function R(a){return function(){a|=0;a=a+0x6D2B79F5|0;var t=Math.imul(a^a>>>15,1|a);t=t+Math.imul(t^t>>>7,61|t)^t;return((t^t>>>14)>>>0)/4294967296;};}
var rnd=R(20161020),s='';
function c(x,y,r,f){s+='<circle cx="'+x.toFixed(1)+'" cy="'+y.toFixed(1)+'" r="'+r+'" fill="'+f+'"/>';}
function q(x,y,f){s+='<rect x="'+(x-1.1).toFixed(1)+'" y="'+(y-1.1).toFixed(1)+'" width="2.2" height="2.2" fill="'+f+'"/>';}
function gen(n,lo,hi,p){var a=[];for(var i=0;i<n;i++)a.push(lo+(hi-lo)*Math.pow(rnd(),p));return a;}
function dp(cx,W,y0,k,v,f,r){v.forEach(function(x){c(cx+(rnd()-0.5)*W,y0-x*k,r,f);});}
var i;
for(i=0;i<430;i++){var u=rnd(),w;if(u<0.55)w=rnd()*8;else if(u<0.88)w=8+rnd()*13;else w=21+rnd()*16;var v=0.2+6.8*Math.pow(rnd(),1.5)*(w>20?0.6:1);q(1269+w*1.48,479-v*4.88,'#0000ff');}
[[5,25.8],[6.5,21.5],[14,15.5],[6,12.5],[4,11.8],[8,10.8],[0,9],[7,9.5],[15,8.5],[17,8.8],[25,7.5],[29,7.7],[96,5.5],[82,4.2],[103,3.1],[68,3.8],[59,3.1],[57,1.7],[63,1.5],[66,1.3],[76,0.6],[75,2],[43,1],[35,0.5],[32,3.3],[34,3.2],[22,6.2],[19,6.8],[12,7.2]].forEach(function(p){q(1269+p[0]*1.48,479-p[1]*4.88,'#0000ff');});
dp(1393,20,817,2,[9,6.5,4.5,3.5,3.2,3,2.5,2,1.5,3.8],'#00b000',1.6);
dp(1440,30,817,2,gen(62,0.3,12,1.5).concat([17.5,21.5,30.5,31.5]),'#f00',1.6);
dp(1485,22,817,2,[12,10.5,6.5,6,5.5,5.2,5,4.5,3.5,2.9,3],'#00f',1.6);
dp(1087,34,1062,3.225,[30.5,21.5,10.5,10,9,8.5,6.5,6,5.5,5.2,5,5,4.8,4.5,4,3.5,3,2.5,2,2,5.8,4.2],'#c0c000',2);
dp(1143,36,1062,3.225,gen(28,0.5,12,1.3),'#f00',2);
dp(1200,40,1062,3.225,gen(32,1,12,1.6).concat([31.5,17.5]),'#00f',2);
dp(1328,26,1057,3.2,[10.5,9.5,7,6.5,5,4.9,4.8,4.5,3.5,2.5],'#00b000',2);
dp(1375,30,1057,3.2,[31.5,12,11.5,9.5,8,6,5.5,5.2,5,4.5,3.5,3,2.5,2,1.8,1.5,2.2],'#ff8000',2);
dp(1420,34,1057,3.2,gen(34,0.5,12,1.5).concat([17.5]),'#00f',2);
dp(1465,28,1057,3.2,[30.5,21.5,10,10,6.5,6,5.5,5,4.8,4,3,2.5,1.5,0.8],'#000',2);
dp(1851,50,478,3,gen(62,1,12,1.5),'#00f',1.7);
dp(1927,16,478,3,[31,31.6,12,10.5,9.3,9.1,9.2,5.2,2.5,2.6],'#f00',2.3);
var g=document.getElementById('dots');if(g)g.innerHTML=s;
document.querySelectorAll('.fx').forEach(function(e){var tw=parseFloat(e.style.getPropertyValue('--w'));var w=e.offsetWidth;if(tw&&w){var sc=tw/w;e.style.transform=(e.classList.contains('cx')?'translateX(-50%) ':'')+'scaleX('+sc+')';}});
document.querySelectorAll('.j').forEach(function(e){for(var k=0;k<3;k++){e.style.whiteSpace='nowrap';var sw=e.scrollWidth,cw=e.clientWidth;e.style.whiteSpace='';if(sw>cw+0.5){var fs=parseFloat(getComputedStyle(e).fontSize);e.style.fontSize=(fs*cw/sw*0.997)+'px';}else break;}});
})();
</script>
</body></html>
